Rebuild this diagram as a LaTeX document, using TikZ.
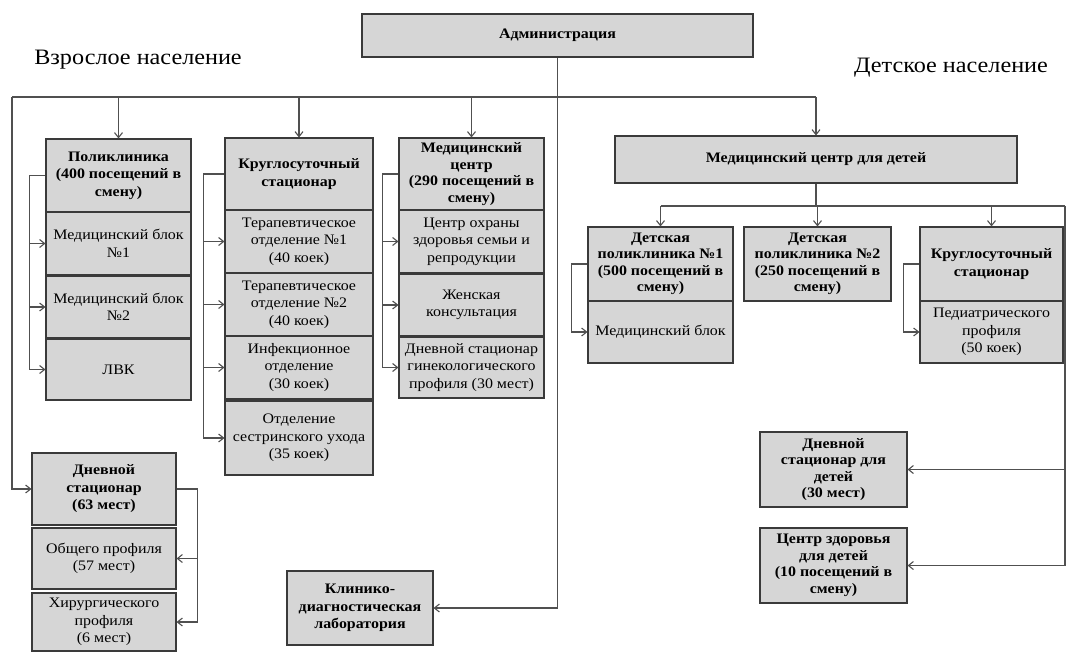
\documentclass[tikz,border=0pt]{standalone}
\usepackage{fontspec}
\setmainfont{Liberation Serif}[FakeStretch=1.1]
\usetikzlibrary{arrows.meta}
\definecolor{boxfill}{HTML}{D6D6D6}
\definecolor{boxline}{HTML}{3A3A3A}
\definecolor{linec}{HTML}{505050}
\begin{document}
\begin{tikzpicture}[x=1pt,y=-1pt,
  box/.style={draw=boxline, fill=boxfill, line width=1.1pt, inner sep=0pt, align=center,
    font=\fontsize{14.5}{17.5}\selectfont},
  hbox/.style={box, font=\bfseries\fontsize{14.5}{17.5}\selectfont},
  tight/.style={font=\fontsize{14.5}{16.5}\selectfont},
  htight/.style={font=\bfseries\fontsize{14.5}{16.5}\selectfont},
  conn/.style={draw=linec, line width=1.1pt},
  arr/.style={conn, -{Straight Barb[length=5pt,width=8pt]}},
  ttl/.style={inner sep=0pt, font=\fontsize{22}{26}\selectfont}]
\useasboundingbox[fill=white] (0,0) rectangle (1067,651);

% titles
\node[ttl] (tadult) at (138,60) {Взрослое население};
\node[ttl] (tchild) at (951,68) {Детское население};

% administration
\node[hbox, minimum width=391pt, minimum height=43pt] (adm) at (557.5,35.5) {Администрация};

% adult column 1
\node[hbox, minimum width=145pt, minimum height=73pt] (pol) at (118.5,175.5) {Поликлиника\\(400 посещений в\\смену)};
\node[box, minimum width=145pt, minimum height=63pt] (mb1) at (118.5,243.5) {Медицинский блок\\№1};
\node[box, minimum width=145pt, minimum height=62pt] (mb2) at (118.5,307) {Медицинский блок\\№2};
\node[box, minimum width=145pt, minimum height=61pt] (lvk) at (118.5,369.5) {ЛВК};

% adult column 2
\node[hbox, minimum width=148pt, minimum height=72pt] (ks) at (299,174) {Круглосуточный\\стационар};
\node[box, minimum width=148pt, minimum height=63pt] (t1) at (299,241.5) {Терапевтическое\\отделение №1\\(40 коек)};
\node[box, minimum width=148pt, minimum height=63pt] (t2) at (299,304.5) {Терапевтическое\\отделение №2\\(40 коек)};
\node[box, minimum width=148pt, minimum height=63pt] (inf) at (299,367.5) {Инфекционное\\отделение\\(30 коек)};
\node[box, minimum width=148pt, minimum height=74pt] (su) at (299,438) {Отделение\\сестринского ухода\\(35 коек)};

% adult column 3
\node[hbox, htight, minimum width=145pt, minimum height=72pt] (mc) at (471.5,174) {Медицинский\\центр\\(290 посещений в\\смену)};
\node[box, minimum width=145pt, minimum height=63pt] (coz) at (471.5,241.5) {Центр охраны\\здоровья семьи и\\репродукции};
\node[box, minimum width=145pt, minimum height=62pt] (zk) at (471.5,305) {Женская\\консультация};
\node[box, minimum width=145pt, minimum height=61pt] (dsg) at (471.5,367.5) {Дневной стационар\\гинекологического\\профиля (30 мест)};

% adult day hospital
\node[hbox, minimum width=144pt, minimum height=72pt] (ds) at (104,489) {Дневной\\стационар\\(63 мест)};
\node[box, minimum width=144pt, minimum height=61pt] (op) at (104,558.5) {Общего профиля\\(57 мест)};
\node[box, minimum width=144pt, minimum height=58pt] (hp) at (104,622) {Хирургического\\профиля\\(6 мест)};

% lab
\node[hbox, minimum width=146pt, minimum height=74pt] (kdl) at (360,608) {Клинико-\\диагностическая\\лаборатория};

% children
\node[hbox, minimum width=402pt, minimum height=47pt] (mcd) at (816,159.5) {Медицинский центр для детей};
\node[hbox, htight, minimum width=145pt, minimum height=74pt] (dp1) at (660.5,264) {Детская\\поликлиника №1\\(500 посещений в\\смену)};
\node[box, minimum width=145pt, minimum height=62pt] (mbd) at (660.5,332) {Медицинский блок};
\node[hbox, htight, minimum width=147pt, minimum height=74pt] (dp2) at (817.5,264) {Детская\\поликлиника №2\\(250 посещений в\\смену)};
\node[hbox, minimum width=143pt, minimum height=74pt] (ksd) at (991.5,264) {Круглосуточный\\стационар};
\node[box, minimum width=143pt, minimum height=62pt] (ped) at (991.5,332) {Педиатрического\\профиля\\(50 коек)};
\node[hbox, htight, minimum width=147pt, minimum height=75pt] (dsd) at (833.5,469.5) {Дневной\\стационар для\\детей\\(30 мест)};
\node[hbox, htight, minimum width=147pt, minimum height=75pt] (czd) at (833.5,565.5) {Центр здоровья\\для детей\\(10 посещений в\\смену)};

% connectors: adult bus
\coordinate (jL) at (12,97);
\draw[conn] (jL) -- (mcd.north |- jL);
\draw[arr] (adm.south) |- (kdl.east);
\draw[arr] (pol.north |- jL) -- (pol.north);
\draw[arr] (ks.north |- jL) -- (ks.north);
\draw[arr] (mc.north |- jL) -- (mc.north);
\draw[arr] (mcd.north |- jL) -- (mcd.north);
\draw[arr] (jL) |- (ds.west);

% brackets
\draw[arr] (pol.west) -- ++(-16,0) |- (mb1.west);
\draw[arr] ([xshift=-16pt]pol.west) |- (mb2.west);
\draw[arr] ([xshift=-16pt]pol.west) |- (lvk.west);

\draw[arr] (ks.west) -- ++(-21,0) |- (t1.west);
\draw[arr] ([xshift=-21pt]ks.west) |- (t2.west);
\draw[arr] ([xshift=-21pt]ks.west) |- (inf.west);
\draw[arr] ([xshift=-21pt]ks.west) |- (su.west);

\draw[arr] (mc.west) -- ++(-16,0) |- (coz.west);
\draw[arr] ([xshift=-16pt]mc.west) |- (zk.west);
\draw[arr] ([xshift=-16pt]mc.west) |- (dsg.west);

\draw[arr] (ds.east) -- ++(21,0) |- (op.east);
\draw[arr] ([xshift=21pt]ds.east) |- (hp.east);

% children bus
\coordinate (jR) at (1065,206);
\draw[conn] (mcd.south) -- (mcd.south |- jR);
\draw[conn] (dp1.north |- jR) -- (jR);
\draw[arr] (dp1.north |- jR) -- (dp1.north);
\draw[arr] (dp2.north |- jR) -- (dp2.north);
\draw[arr] (ksd.north |- jR) -- (ksd.north);
\draw[arr] (jR) |- (dsd.east);
\draw[arr] (jR) |- (czd.east);

\draw[arr] (dp1.west) -- ++(-16,0) |- (mbd.west);
\draw[arr] (ksd.west) -- ++(-16,0) |- (ped.west);
\end{tikzpicture}
\end{document}
